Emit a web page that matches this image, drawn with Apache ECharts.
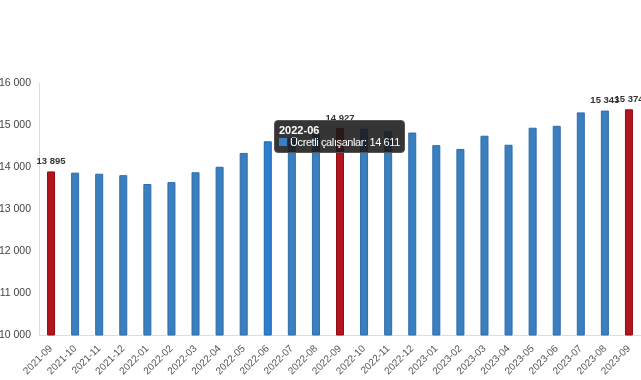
<!DOCTYPE html>
<html>
<head>
<meta charset="utf-8">
<script src="https://cdn.jsdelivr.net/npm/echarts@6/dist/echarts.min.js"></script>
<style>
html,body{margin:0;padding:0;background:#fff;}
#chart{width:641px;height:380px;}
</style>
</head>
<body>
<div id="chart"></div>
<script>
const categories = ["2021-09","2021-10","2021-11","2021-12","2022-01","2022-02","2022-03","2022-04","2022-05","2022-06","2022-07","2022-08","2022-09","2022-10","2022-11","2022-12","2023-01","2023-02","2023-03","2023-04","2023-05","2023-06","2023-07","2023-08","2023-09"];
const values = [13895,13865,13840,13805,13595,13640,13875,14005,14335,14611,14700,14790,14927,14915,14850,14820,14520,14430,14745,14530,14935,14980,15300,15343,15374];
const seriesName = "Ücretli çalışanlar";
const yTicks = [10000, 11000, 12000, 13000, 14000, 15000, 16000];
const redIdx = [0, 12, 24];
const labelIdx = [0, 12, 23, 24];
const hoverIdx = 9;

function fmt(v){ return String(v).replace(/\B(?=(\d{3})+(?!\d))/g, ' '); }

const data = values.map((v, i) => {
  const item = { value: v };
  if (redIdx.includes(i)) item.itemStyle = { color: '#b3151c', borderColor: '#8e1015' };
  if (i === hoverIdx) item.itemStyle = { color: '#2a7fd0', borderColor: '#1d66ad' };
  item.label = { show: labelIdx.includes(i) };
  return item;
});

const chart = echarts.init(document.getElementById('chart'), null, { renderer: 'canvas' });
chart.setOption({
  animation: false,
  textStyle: { fontFamily: 'Liberation Sans, Arial, sans-serif' },
  grid: { left: 39, right: 0, top: 83, bottom: 45, containLabel: false, outerBoundsMode: 'none' },
  tooltip: {
    trigger: 'item',
    alwaysShowContent: true,
    backgroundColor: 'rgba(25,25,25,0.88)',
    borderColor: '#555',
    borderWidth: 1,
    padding: [3, 4],
    extraCssText: 'border-radius:4px;box-shadow:none;',
    position: function(){ return [274, 120]; },
    formatter: function(p){
      return '<div style="font:bold 11px Liberation Sans,Arial,sans-serif;color:#fff;line-height:12px;">' + categories[p.dataIndex] + '</div>' +
             '<div style="font:11px Liberation Sans,Arial,sans-serif;letter-spacing:-0.4px;color:#fff;line-height:13px;">' +
             '<span style="display:inline-block;width:8px;height:8px;background:#3a80c1;margin-right:3px;"></span>' +
             seriesName + ': ' + fmt(p.value) + '</div>';
    }
  },
  xAxis: {
    type: 'category',
    data: categories,
    axisLine: { lineStyle: { color: '#ddd' } },
    axisTick: { show: false },
    axisLabel: { rotate: 45, fontSize: 10, color: '#555', margin: 12, interval: 0 }
  },
  yAxis: {
    type: 'value',
    min: yTicks[0],
    max: yTicks[yTicks.length - 1],
    interval: 1000,
    axisLine: { show: true, lineStyle: { color: '#ddd' } },
    axisTick: { show: false },
    splitLine: { show: false },
    axisLabel: { fontSize: 10.5, color: '#444', margin: 8, formatter: v => fmt(v) }
  },
  series: [{
    name: seriesName,
    type: 'bar',
    barWidth: 8,
    data: data,
    itemStyle: { color: '#3a80c1', borderColor: '#2d6ca8', borderWidth: 1 },
    emphasis: { disabled: true },
    label: {
      position: 'top',
      distance: 5,
      fontSize: 9.5,
      fontWeight: 'bold',
      color: '#333',
      formatter: p => fmt(p.value)
    }
  }]
});
chart.dispatchAction({ type: 'showTip', seriesIndex: 0, dataIndex: hoverIdx });
</script>
</body>
</html>
